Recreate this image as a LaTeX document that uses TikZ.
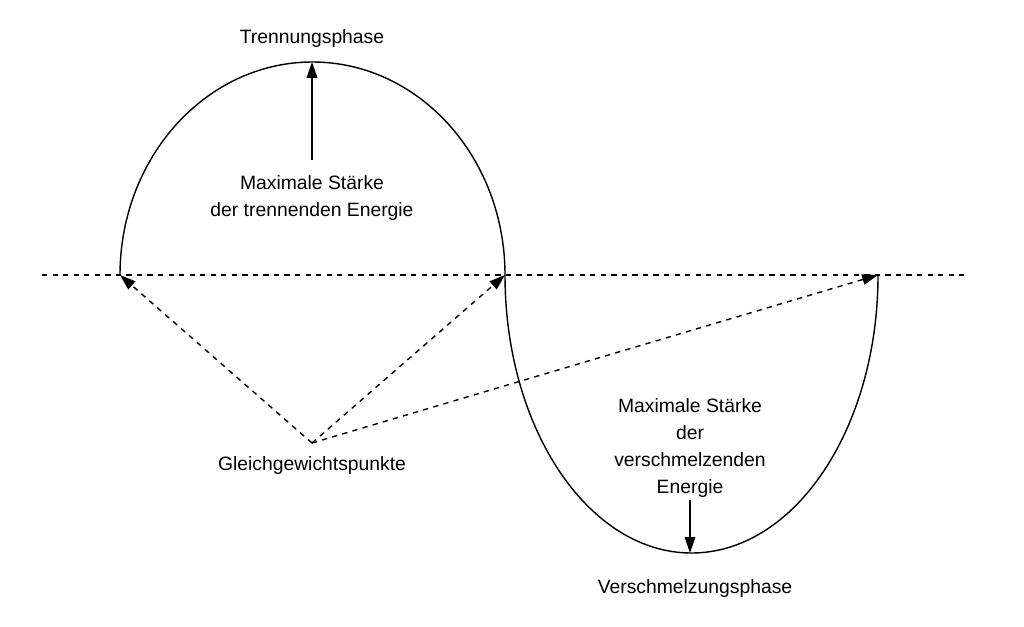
\documentclass[tikz,border=0pt]{standalone}
\usepackage{fontspec}
\setmainfont{Liberation Sans}
\usetikzlibrary{arrows.meta}
\begin{document}
\begin{tikzpicture}[x=0.02cm,y=-0.02cm,
  lbl/.style={font=\fontsize{11}{13.5}\selectfont,align=center,inner sep=0},
  arr/.style={-{Triangle[length=9pt,width=6pt]},thick},
  darr/.style={arr,dashed}]
\useasboundingbox (0,0) rectangle (1024,626);
\coordinate (L) at (120,275);
\coordinate (M) at (505,275);
\coordinate (R) at (878,275);
\coordinate (G) at (312,443);
\coordinate (top) at (312,62);
\coordinate (bot) at (690,553);
\draw[dashed,thick] (42,275) -- (968,275);
\draw[thick] (L) arc[start angle=180,end angle=0,x radius=192.5,y radius=-213];
\draw[thick] (M) arc[start angle=180,end angle=360,x radius=186.5,y radius=-278];
\node[lbl] (t1) at (312,38) {Trennungsphase};
\node[lbl] (t2) at (312,198) {Maximale Stärke\\[2pt]der trennenden Energie};
\draw[arr] (312,160) -- (top);
\node[lbl] (g) at (312,465) {Gleichgewichtspunkte};
\draw[darr] (G) -- (L);
\draw[darr] (G) -- (M);
\draw[darr] (G) -- (R);
\node[lbl] (v1) at (690,448) {Maximale Stärke\\[2pt]der\\[2pt]verschmelzenden\\[2pt]Energie};
\draw[arr] (690,500) -- (bot);
\node[lbl] (v2) at (695,588) {Verschmelzungsphase};
\end{tikzpicture}
\end{document}
